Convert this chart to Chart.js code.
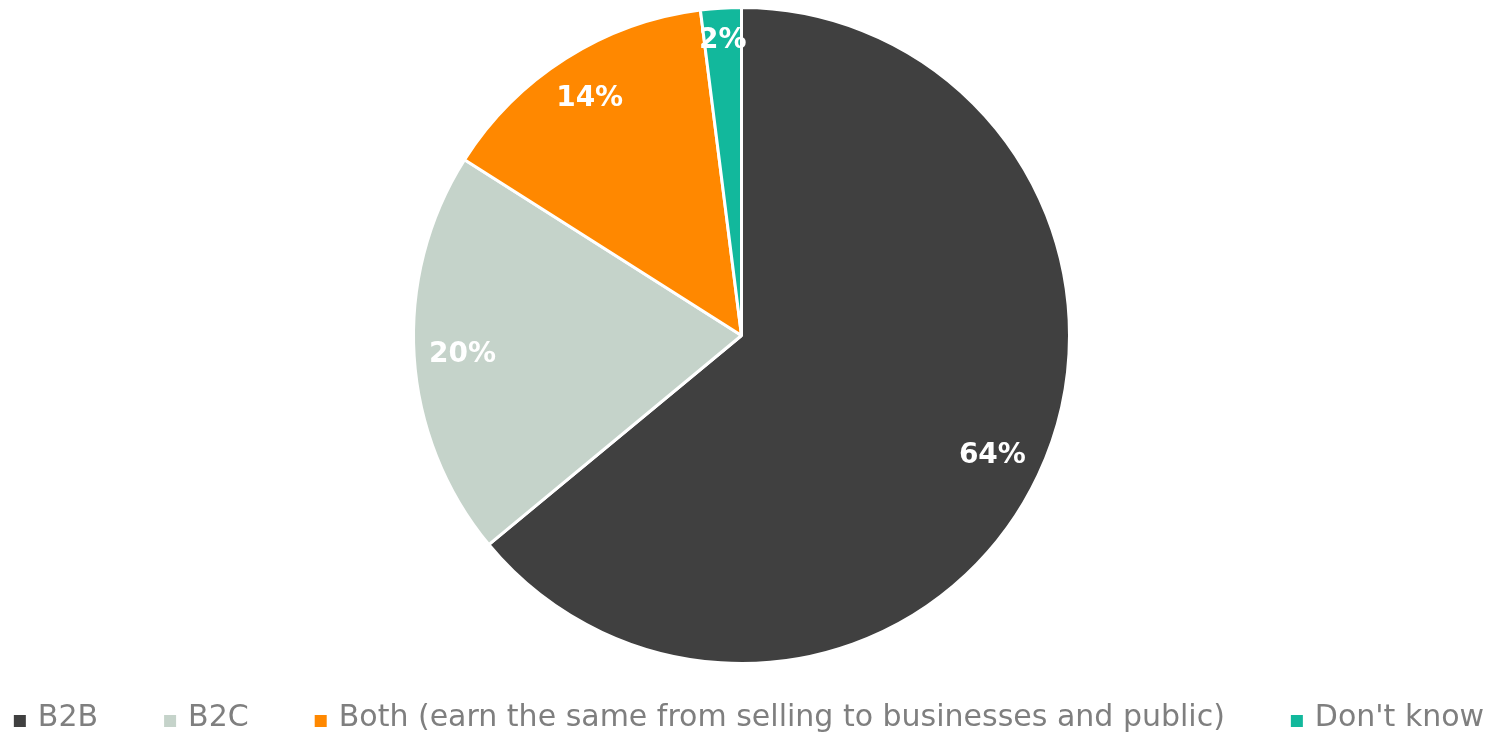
<!DOCTYPE html>
<html>
<head>
<meta charset="utf-8">
<script src="https://cdn.jsdelivr.net/npm/chart.js@4.4.1/dist/chart.umd.min.js"></script>
<style>
  html, body { margin: 0; padding: 0; background: #fff; }
  #wrap { width: 1489px; height: 737px; position: relative; }
</style>
</head>
<body>
<div id="wrap"><canvas id="pie"></canvas></div>
<script>
// data
const categories = ['B2B', 'B2C', 'Both (earn the same from selling to businesses and public)', "Don't know"];
const shares = [64, 20, 14, 2];
const sliceColors = ['#404040', '#c5d3ca', '#ff8800', '#12b89c'];

const FONT = '"DejaVu Sans", sans-serif';

// percentage labels placed near the inside edge of each slice
const sliceLabels = {
  id: 'sliceLabels',
  afterDatasetsDraw(chart) {
    const ctx = chart.ctx;
    const arcs = chart.getDatasetMeta(0).data;
    ctx.save();
    ctx.font = 'bold 28px ' + FONT;
    ctx.fillStyle = '#ffffff';
    ctx.textAlign = 'center';
    ctx.textBaseline = 'middle';
    arcs.forEach((arc, i) => {
      const p = arc.getProps(['x', 'y', 'startAngle', 'endAngle', 'outerRadius'], true);
      const mid = (p.startAngle + p.endAngle) / 2;
      const txt = shares[i] + '%';
      const w = ctx.measureText(txt).width;
      const h = 30;
      const dx = Math.cos(mid), dy = Math.sin(mid);
      const inset = 14 + Math.abs(dx) * w / 2 + Math.abs(dy) * h / 2;
      const r = p.outerRadius - inset;
      ctx.fillText(txt, p.x + dx * r, p.y + dy * r + 2);
    });
    ctx.restore();
  }
};

// legend along the bottom
const bottomLegend = {
  id: 'bottomLegend',
  afterDraw(chart) {
    const ctx = chart.ctx;
    ctx.save();
    ctx.font = '30px ' + FONT;
    ctx.textBaseline = 'middle';
    const box = 12, boxGap = 12, itemGap = 66;
    const widths = categories.map(c => ctx.measureText(c).width);
    let total = 0;
    widths.forEach((w, i) => { total += box + boxGap + w + (i < widths.length - 1 ? itemGap : 0); });
    let x = 749 - total / 2;
    const y = 718;
    categories.forEach((c, i) => {
      ctx.fillStyle = sliceColors[i];
      ctx.fillRect(x, y - 3, box, box);
      x += box + boxGap;
      ctx.fillStyle = '#7f7f7f';
      ctx.fillText(c, x, y);
      x += widths[i] + itemGap;
    });
    ctx.restore();
  }
};

document.addEventListener('DOMContentLoaded', () => {
  new Chart(document.getElementById('pie'), {
    type: 'pie',
    data: {
      labels: categories,
      datasets: [{
        data: shares,
        backgroundColor: sliceColors,
        borderColor: '#ffffff',
        borderWidth: 3
      }]
    },
    options: {
      responsive: true,
      maintainAspectRatio: false,
      animation: false,
      layout: { padding: { top: 6, bottom: 72, left: 0, right: 6 } },
      plugins: {
        legend: { display: false },
        tooltip: { enabled: false }
      }
    },
    plugins: [sliceLabels, bottomLegend]
  });
});
</script>
</body>
</html>
